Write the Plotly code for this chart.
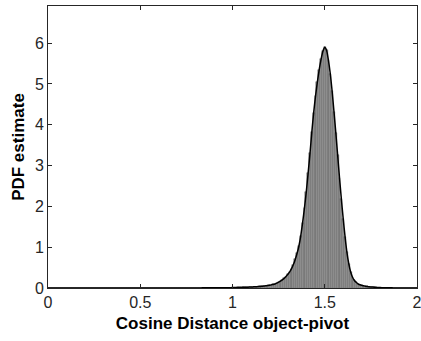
import numpy as np
import plotly.graph_objects as go

# Bin centres (0.01 wide, 0.00 .. 2.00) and estimated PDF values
bin_start = 0.00
bin_width = 0.01
pdf_values = [
    0.000, 0.000, 0.000, 0.000, 0.000, 0.000, 0.000, 0.000, 0.000, 0.000,   # 0.00-0.09
    0.000, 0.000, 0.000, 0.000, 0.000, 0.000, 0.000, 0.000, 0.000, 0.000,   # 0.10-0.19
    0.000, 0.000, 0.000, 0.000, 0.000, 0.000, 0.000, 0.000, 0.000, 0.000,   # 0.20-0.29
    0.000, 0.000, 0.000, 0.000, 0.000, 0.000, 0.000, 0.000, 0.000, 0.000,   # 0.30-0.39
    0.000, 0.000, 0.000, 0.000, 0.000, 0.000, 0.000, 0.000, 0.000, 0.000,   # 0.40-0.49
    0.000, 0.000, 0.000, 0.000, 0.000, 0.001, 0.001, 0.001, 0.001, 0.001,   # 0.50-0.59
    0.001, 0.001, 0.001, 0.001, 0.001, 0.001, 0.001, 0.001, 0.001, 0.001,   # 0.60-0.69
    0.002, 0.002, 0.002, 0.002, 0.002, 0.002, 0.002, 0.002, 0.003, 0.003,   # 0.70-0.79
    0.003, 0.003, 0.003, 0.003, 0.004, 0.004, 0.004, 0.004, 0.004, 0.005,   # 0.80-0.89
    0.005, 0.005, 0.006, 0.006, 0.007, 0.007, 0.008, 0.008, 0.009, 0.009,   # 0.90-0.99
    0.010, 0.011, 0.012, 0.013, 0.014, 0.015, 0.016, 0.018, 0.020, 0.022,   # 1.00-1.09
    0.025, 0.027, 0.029, 0.031, 0.034, 0.038, 0.042, 0.047, 0.053, 0.060,   # 1.10-1.19
    0.068, 0.077, 0.088, 0.100, 0.118, 0.142, 0.168, 0.198, 0.235, 0.280,   # 1.20-1.29
    0.335, 0.395, 0.475, 0.575, 0.700, 0.850, 1.030, 1.280, 1.600, 1.960,   # 1.30-1.39
    2.360, 2.820, 3.300, 3.820, 4.300, 4.700, 5.050, 5.350, 5.600, 5.800,   # 1.40-1.49
    5.900,                                                                  # 1.50
    5.820, 5.580, 5.250, 4.820, 4.320, 3.800, 3.250, 2.700, 2.180,          # 1.51-1.59
    1.700, 1.260, 0.880, 0.600, 0.400, 0.270, 0.190, 0.140, 0.100, 0.080,   # 1.60-1.69
    0.065, 0.055, 0.045, 0.038, 0.032, 0.027, 0.022, 0.018, 0.015, 0.012,   # 1.70-1.79
    0.010, 0.008, 0.007, 0.006, 0.005, 0.004, 0.004, 0.003, 0.003, 0.002,   # 1.80-1.89
    0.002, 0.002, 0.001, 0.001, 0.001, 0.001, 0.000, 0.000, 0.000, 0.000,   # 1.90-1.99
    0.000,                                                                  # 2.00
]
bin_centres = np.round(bin_start + bin_width * np.arange(len(pdf_values)), 3)

x_ticks = [0, 0.5, 1, 1.5, 2]
x_tick_labels = ["0", "0.5", "1", "1.5", "2"]
y_ticks = [0, 1, 2, 3, 4, 5, 6]
y_tick_labels = ["0", "1", "2", "3", "4", "5", "6"]

x_title = "Cosine Distance object-pivot"
y_title = "PDF estimate"

axis_col = "#262626"

fig = go.Figure()
fig.add_trace(go.Bar(
    x=bin_centres, y=pdf_values, width=bin_width,
    marker=dict(color="#959595", line=dict(color="#5e5e5e", width=0.5)),
    showlegend=False, hoverinfo="skip",
))
fig.add_trace(go.Scatter(
    x=bin_centres, y=pdf_values, mode="lines",
    line=dict(color="black", width=1.5, shape="spline", smoothing=0.6),
    showlegend=False, cliponaxis=False,
))

font_family = "Liberation Sans, Arial, sans-serif"
fig.update_layout(
    width=421, height=341,
    margin=dict(l=48, r=4, t=6, b=53),
    paper_bgcolor="white", plot_bgcolor="white",
    bargap=0,
    font=dict(family=font_family, size=16, color=axis_col),
    xaxis=dict(
        range=[0, 2], tickvals=x_ticks, ticktext=x_tick_labels,
        showgrid=False, zeroline=False, automargin=False,
        showline=True, linecolor=axis_col, linewidth=1, mirror="ticks",
        ticks="inside", ticklen=4, tickcolor=axis_col, tickwidth=1,
        tickfont=dict(size=16, color=axis_col),
        ticklabeloverflow="allow",
        title=dict(text="<b>" + x_title + "</b>", font=dict(size=17, color="black"), standoff=6),
    ),
    yaxis=dict(
        range=[0, 6.91], tickvals=y_ticks, ticktext=y_tick_labels,
        showgrid=False, zeroline=False, automargin=False,
        showline=True, linecolor=axis_col, linewidth=1, mirror="ticks",
        ticks="inside", ticklen=4, tickcolor=axis_col, tickwidth=1,
        tickfont=dict(size=16, color=axis_col),
        ticklabeloverflow="allow",
        title=dict(text="<b>" + y_title + "</b>", font=dict(size=17, color="black"), standoff=5),
    ),
)

fig.write_html("out.html")
